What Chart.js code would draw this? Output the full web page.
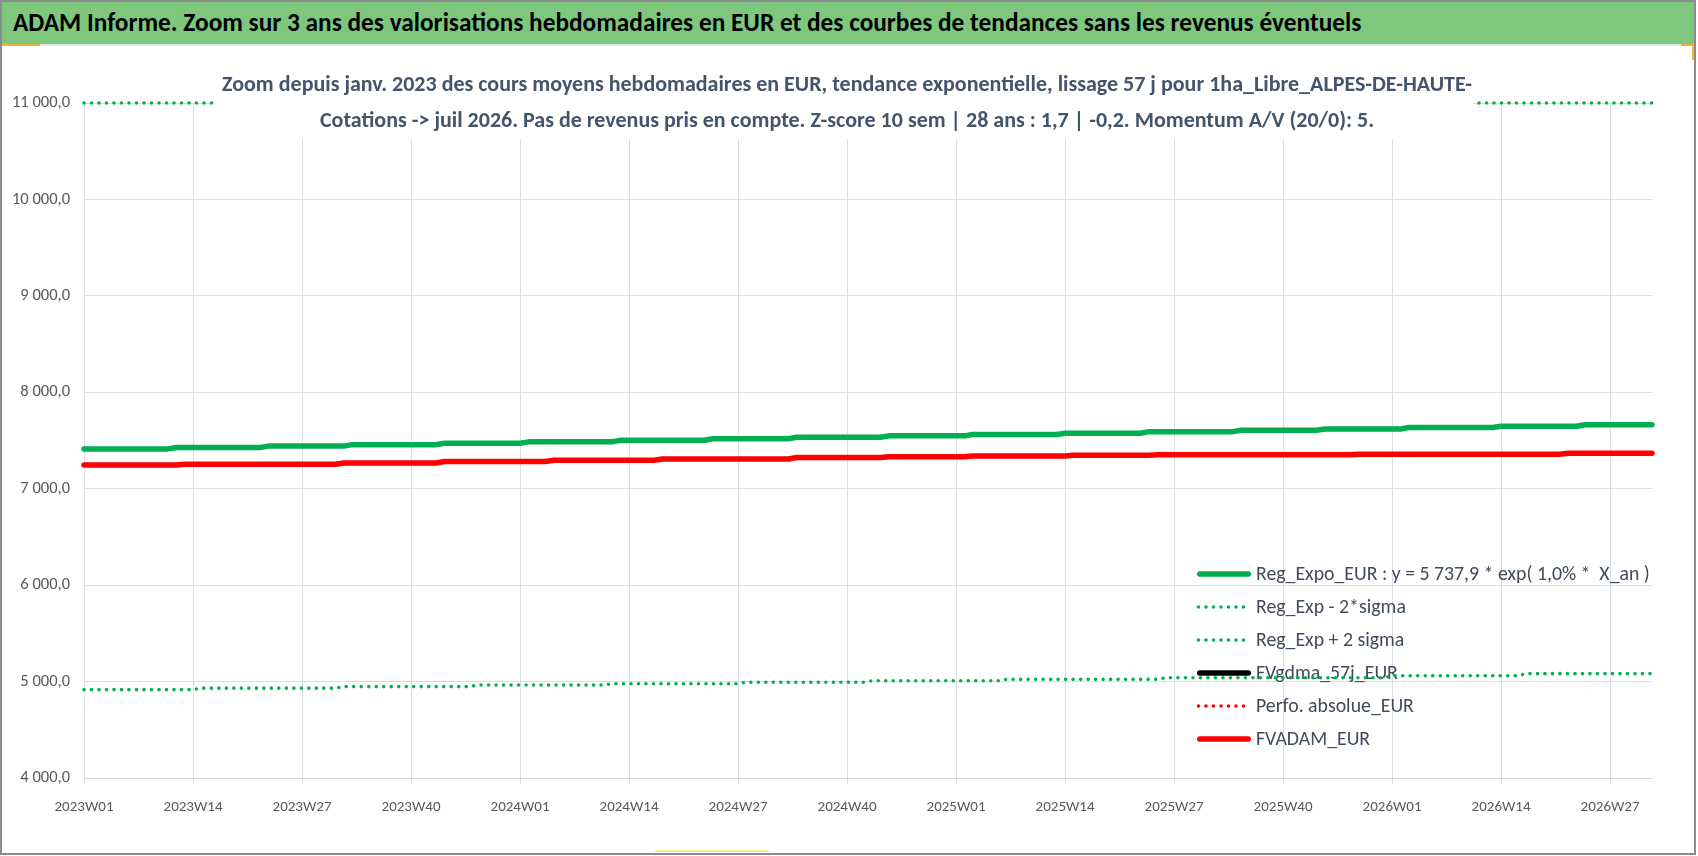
<!DOCTYPE html>
<html>
<head>
<meta charset="utf-8">
<script src="https://cdn.jsdelivr.net/npm/chart.js@4.4.0/dist/chart.umd.min.js"></script>
<style>
  html, body { margin: 0; padding: 0; background: #ffffff; }
  #frame { position: absolute; left: 0; top: 0; width: 1696px; height: 855px; box-sizing: border-box; border: 2px solid #8c8c8c; background: #ffffff; }
  #banner { position: absolute; left: 2px; top: 2px; width: 1692px; height: 42px; background: #7ec87e; border-bottom: 2px solid #e1e5ea; }
  #bannerText { position: absolute; left: 11px; top: 0; height: 42px; line-height: 42px; white-space: nowrap; color: #000000; font-weight: bold; font-family: 'Carlito', 'Liberation Sans Narrow', sans-serif; }
  #wrap { position: absolute; left: 0; top: 0; width: 1698px; height: 856px; }
  .deco { position: absolute; }
</style>
</head>
<body>
<div id="frame"></div>
<div id="banner"><div id="bannerText">ADAM Informe. Zoom sur 3 ans des valorisations hebdomadaires en EUR et des courbes de tendances sans les revenus éventuels</div></div>
<div class="deco" style="left:2px;top:44px;width:38px;height:2px;background:#f2b134;"></div>
<div class="deco" style="left:1681px;top:44px;width:13px;height:2px;background:#f2b134;"></div>
<div class="deco" style="left:1692px;top:44px;width:2px;height:16px;background:#f2b134;"></div>
<div class="deco" style="left:655px;top:850px;width:114px;height:2px;background:#ffe699;"></div>
<div id="wrap"><canvas id="c"></canvas></div>
<script>
// ---------- DATA ----------
// ISO weeks shown on the category axis (2023W01 .. 2026W32)
const weeksPerYear = { 2023: 52, 2024: 52, 2025: 52, 2026: 32 };
const weekLabels = [];
for (const y of [2023, 2024, 2025, 2026]) {
  for (let w = 1; w <= weeksPerYear[y]; w++) weekLabels.push(y + 'W' + String(w).padStart(2, '0'));
}
const labelEvery = 13;

// Series: the week index where each level starts, and its value
const regExpoStart = [0, 11, 22, 32, 43, 53, 64, 75, 85, 96, 106, 117, 127, 138, 148, 158, 169, 179];
const regExpoLevel = [7413, 7428, 7442, 7457, 7471, 7486, 7502, 7518, 7533, 7548, 7562, 7576, 7592, 7606, 7620, 7634, 7648, 7663];

const regMinusStart = [0, 14, 31, 47, 63, 79, 94, 110, 129, 156, 172];
const regMinusLevel = [4916, 4932, 4948, 4964, 4978, 4993, 5008, 5023, 5040, 5060, 5082];

const regPlusStart = [0];
const regPlusLevel = [11000];

const fvadamStart = [0, 12, 31, 43, 56, 69, 85, 96, 106, 118, 128, 152, 177];
const fvadamLevel = [7247, 7254, 7267, 7282, 7296, 7309, 7324, 7332, 7340, 7346, 7352, 7358, 7367];

const fvgdmaValues = [];
const perfoValues = [];

const yTicks = { min: 4000, max: 11000, step: 1000 };

const seriesNames = [
  'Reg_Expo_EUR : y = 5 737,9 * exp( 1,0% *  X_an )',
  'Reg_Exp - 2*sigma',
  'Reg_Exp + 2 sigma',
  'FVgdma_57j_EUR',
  'Perfo. absolue_EUR',
  'FVADAM_EUR'
];

const subtitleLines = [
  'Zoom depuis janv. 2023 des cours moyens hebdomadaires en EUR, tendance exponentielle, lissage 57 j pour 1ha_Libre_ALPES-DE-HAUTE-',
  'Cotations -> juil 2026. Pas de revenus pris en compte. Z-score 10 sem | 28 ans : 1,7 | -0,2. Momentum A/V (20/0): 5.'
];

// ---------- helpers ----------
function stepPoints(starts, levels) {
  const last = weekLabels.length - 1;
  const pts = [];
  for (let i = 0; i < levels.length; i++) {
    const a = starts[i];
    const b = i + 1 < starts.length ? starts[i + 1] - 1 : last;
    pts.push({ x: weekLabels[a], y: levels[i] });
    if (b > a) pts.push({ x: weekLabels[b], y: levels[i] });
  }
  return pts;
}
function frNum(v) {
  const p = v.toFixed(1).split('.');
  return p[0].replace(/\B(?=(\d{3})+(?!\d))/g, ' ') + ',' + p[1];
}
const FAMILY = "'Carlito', 'Liberation Sans Narrow', sans-serif";
function fitSize(ctx, text, weight, target, base) {
  ctx.font = weight + ' ' + base + 'px ' + FAMILY;
  const w = ctx.measureText(text).width;
  return base * target / w;
}

// ---------- plugins ----------
const legendBox = { x0: 1197, x1: 1251, tx: 1256, y0: 574, dy: 33, textWidth0: 394, color: '#404b5b' };
const xlLegend = {
  id: 'xlLegend',
  beforeDatasetsDraw(chart) {
    const ctx = chart.ctx;
    ctx.save();
    const size = fitSize(ctx, chart.data.datasets[0].label, 'normal', legendBox.textWidth0, 18);
    chart.data.datasets.forEach((ds, i) => {
      const y = legendBox.y0 + i * legendBox.dy;
      ctx.beginPath();
      ctx.strokeStyle = ds.borderColor;
      ctx.lineWidth = ds.borderWidth;
      ctx.lineCap = ds.borderCapStyle || 'butt';
      ctx.setLineDash(ds.borderDash || []);
      const inset = (ds.borderDash && ds.borderDash.length) ? 1.5 : ds.borderWidth / 2;
      ctx.moveTo(legendBox.x0 + inset, y);
      ctx.lineTo(legendBox.x1 - inset, y);
      ctx.stroke();
      ctx.setLineDash([]);
      ctx.fillStyle = legendBox.color;
      ctx.font = 'normal ' + size + 'px ' + FAMILY;
      ctx.textBaseline = 'middle';
      ctx.textAlign = 'left';
      ctx.fillText(ds.label, legendBox.tx, y + 1);
    });
    ctx.restore();
  }
};

const subBox = { x: 214, y: 58, w: 1259, h: 81, cx: 847, lineY: [84.5, 121], width0: 1251, color: '#44546a' };
const xlSubtitle = {
  id: 'xlSubtitle',
  afterDatasetsDraw(chart) {
    const ctx = chart.ctx;
    ctx.save();
    ctx.fillStyle = '#ffffff';
    ctx.fillRect(subBox.x, subBox.y, subBox.w, subBox.h);
    const size = fitSize(ctx, subtitleLines[0], 'bold', subBox.width0, 20);
    ctx.font = 'bold ' + size + 'px ' + FAMILY;
    ctx.fillStyle = subBox.color;
    ctx.textAlign = 'center';
    ctx.textBaseline = 'middle';
    subtitleLines.forEach((t, i) => ctx.fillText(t, subBox.cx, subBox.lineY[i] + 1));
    ctx.restore();
  }
};

// ---------- chart ----------
const GREEN = '#00b050', RED = '#ff0000';
const dotted = { borderWidth: 3.6, borderDash: [0, 7.5], borderCapStyle: 'round', clip: 6 };
const solid = { borderWidth: 5.5, borderCapStyle: 'round', borderJoinStyle: 'round', clip: 6 };

const chart = new Chart(document.getElementById('c'), {
  type: 'line',
  data: {
    labels: weekLabels,
    datasets: [
      Object.assign({ label: seriesNames[0], data: stepPoints(regExpoStart, regExpoLevel), borderColor: GREEN }, solid),
      Object.assign({ label: seriesNames[1], data: stepPoints(regMinusStart, regMinusLevel), borderColor: GREEN }, dotted),
      Object.assign({ label: seriesNames[2], data: stepPoints(regPlusStart, regPlusLevel), borderColor: GREEN }, dotted),
      Object.assign({ label: seriesNames[3], data: fvgdmaValues, borderColor: '#000000' }, solid),
      Object.assign({ label: seriesNames[4], data: perfoValues, borderColor: RED }, dotted),
      Object.assign({ label: seriesNames[5], data: stepPoints(fvadamStart, fvadamLevel), borderColor: RED }, solid)
    ]
  },
  options: {
    responsive: true,
    maintainAspectRatio: false,
    animation: false,
    events: [],
    layout: { padding: { top: 103, right: 46, bottom: 0, left: 0 } },
    elements: { point: { radius: 0 }, line: { tension: 0, fill: false } },
    plugins: { legend: { display: false }, title: { display: false }, tooltip: { enabled: false } },
    scales: {
      x: {
        type: 'category',
        offset: false,
        grid: { color: '#dadee5', lineWidth: 1, tickLength: 6, drawTicks: true },
        border: { color: '#d3d7de' },
        ticks: {
          autoSkip: false, maxRotation: 0, minRotation: 0, padding: 14,
          color: '#595959', font: { family: FAMILY, size: 15 },
          callback: function (v, i) { return i % labelEvery === 0 ? this.getLabelForValue(v) : null; }
        },
        afterFit: (s) => { s.height = 78; }
      },
      y: {
        min: yTicks.min, max: yTicks.max,
        grid: { color: '#dadee5', lineWidth: 1, drawTicks: false },
        border: { display: false },
        ticks: {
          stepSize: yTicks.step, padding: 14, color: '#595959',
          font: { family: FAMILY, size: 16.5 },
          callback: (v) => frNum(v)
        },
        afterFit: (s) => { s.width = 84; }
      }
    }
  },
  plugins: [xlLegend, xlSubtitle]
});

// banner title fitted to the reference width
(function () {
  const el = document.getElementById('bannerText');
  const ctx = document.createElement('canvas').getContext('2d');
  el.style.fontSize = fitSize(ctx, el.textContent, 'bold', 1349, 27) + 'px';
})();
</script>
</body>
</html>
